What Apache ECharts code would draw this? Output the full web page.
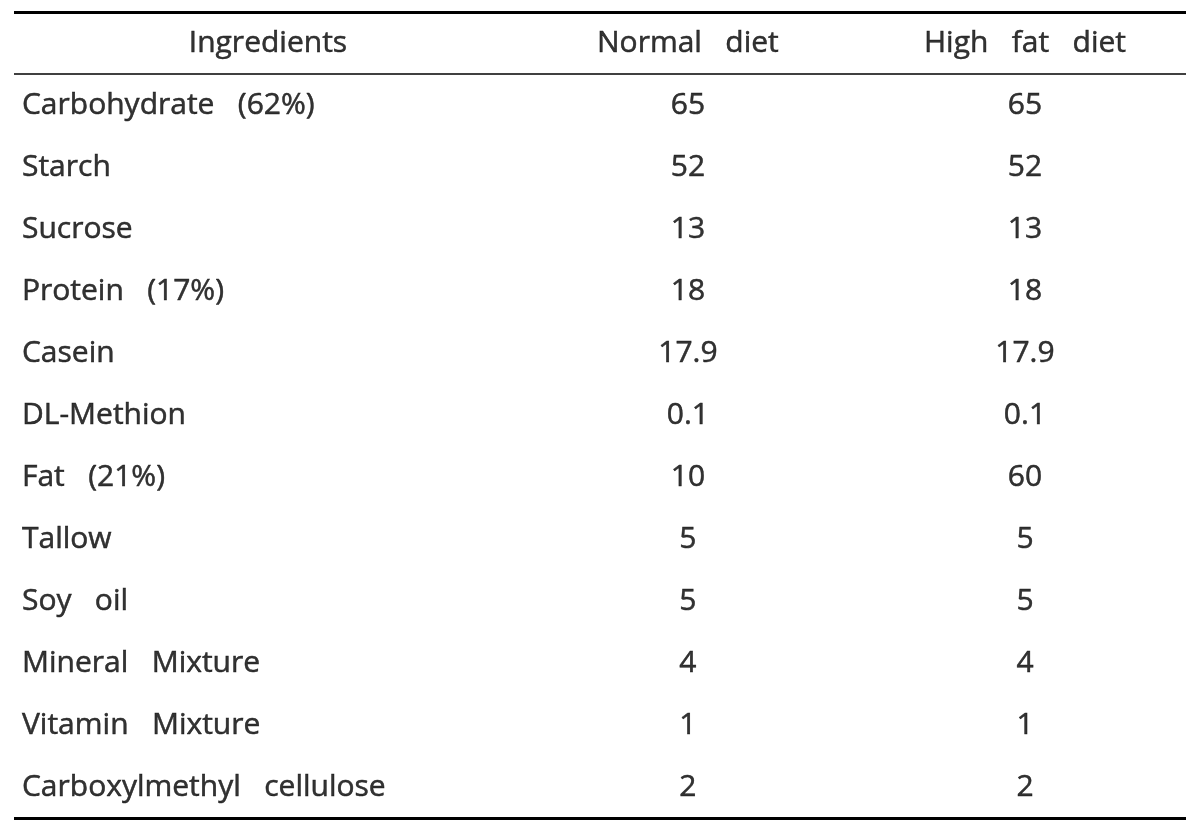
<!DOCTYPE html>
<html>
<head>
<meta charset="utf-8">
<script src="https://cdn.jsdelivr.net/npm/echarts@6/dist/echarts.min.js"></script>
<style>html,body{margin:0;padding:0;background:#fff;}#c{width:1200px;height:827px;}</style>
</head>
<body>
<div id="c"></div>
<script>
const headers = ['Ingredients', 'Normal diet', 'High fat diet'];
const ingredients = ['Carbohydrate (62%)', 'Starch', 'Sucrose', 'Protein (17%)', 'Casein', 'DL-Methion', 'Fat (21%)', 'Tallow', 'Soy oil', 'Mineral Mixture', 'Vitamin Mixture', 'Carboxylmethyl cellulose'];
const normalDiet = [65, 52, 13, 18, 17.9, 0.1, 10, 5, 5, 4, 1, 2];
const highFatDiet = [65, 52, 13, 18, 17.9, 0.1, 60, 5, 5, 4, 1, 2];

// layout constants (fraction of table width)
const colAnchor = { name: 0.0068, nameHeader: 0.2167, normal: 0.575, high: 0.8626 };
const FONT = 'Open Sans';
const FS = 30;

function textSeries(points, align) {
  return {
    type: 'scatter',
    symbolSize: 0,
    silent: true,
    data: points,
    label: {
      show: true,
      position: 'inside',
      align: align,
      verticalAlign: 'middle',
      color: '#000',
      fontFamily: FONT,
      fontSize: FS,
      textBorderColor: '#000',
      textBorderWidth: 0.5,
      // the source typeface sets wide word gaps
      formatter: p => String(p.data[2]).replace(/ /g, '   ')
    }
  };
}

const headerPts = [
  [colAnchor.nameHeader, 0, headers[0]],
  [colAnchor.normal, 0, headers[1]],
  [colAnchor.high, 0, headers[2]]
];
const namePts = ingredients.map((n, i) => [colAnchor.name, i + 1, n]);
const normalPts = normalDiet.map((v, i) => [colAnchor.normal, i + 1, v]);
const highPts = highFatDiet.map((v, i) => [colAnchor.high, i + 1, v]);

const nRows = ingredients.length + 1;

const chart = echarts.init(document.getElementById('c'), null, { renderer: 'canvas' });
const headerSeries = textSeries(headerPts, 'center');
headerSeries.markLine = {
  silent: true,
  symbol: 'none',
  label: { show: false },
  data: [
    { yAxis: -0.5, lineStyle: { color: '#000', width: 3, type: 'solid' } },
    { yAxis: 0.5, lineStyle: { color: '#000', width: 1.5, type: 'solid' } },
    { yAxis: nRows - 0.5, lineStyle: { color: '#000', width: 3, type: 'solid' } }
  ]
};
chart.setOption({
  animation: false,
  backgroundColor: '#fff',
  grid: { left: 14, right: 14, top: 12, height: 62 * nRows },
  xAxis: { type: 'value', min: 0, max: 1, show: false },
  yAxis: { type: 'value', min: -0.5, max: nRows - 0.5, inverse: true, show: false },
  series: [
    headerSeries,
    textSeries(namePts, 'left'),
    textSeries(normalPts, 'center'),
    textSeries(highPts, 'center')
  ]
});
</script>
</body>
</html>
